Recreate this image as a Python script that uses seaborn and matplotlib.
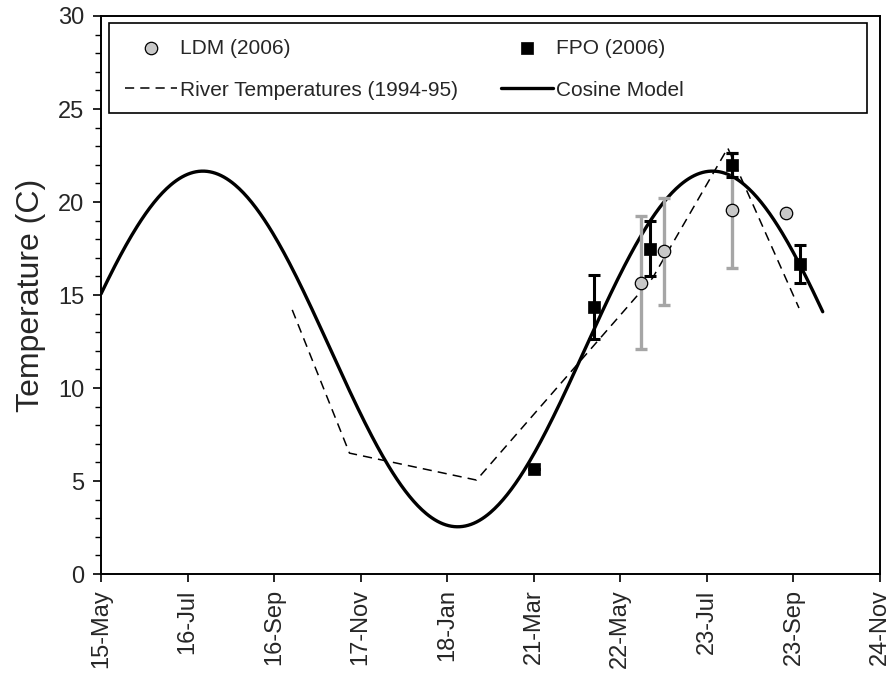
import numpy as np
import pandas as pd
import matplotlib
matplotlib.use("Agg")
import matplotlib.pyplot as plt
from matplotlib.ticker import MultipleLocator
from matplotlib.patches import Rectangle
import seaborn as sns

# ---------------- data ----------------
tick_dates = ["2005-05-15", "2005-07-16", "2005-09-16", "2005-11-17", "2006-01-18",
              "2006-03-21", "2006-05-22", "2006-07-23", "2006-09-23", "2006-11-24"]
tick_labels = ["15-May", "16-Jul", "16-Sep", "17-Nov", "18-Jan",
               "21-Mar", "22-May", "23-Jul", "23-Sep", "24-Nov"]

ldm_dates = ["2006-06-06", "2006-06-22", "2006-08-10", "2006-09-18"]
ldm_temp = [15.66, 17.35, 19.55, 19.39]
ldm_err = [3.58, 2.87, 3.10, 0.0]

fpo_dates = ["2006-03-21", "2006-05-03", "2006-06-12", "2006-08-10", "2006-09-28"]
fpo_temp = [5.65, 14.37, 17.49, 21.99, 16.65]
fpo_err = [0.0, 1.72, 1.49, 0.65, 1.03]

river_dates = ["2005-09-29", "2005-11-09", "2006-02-08", "2006-06-14", "2006-08-07", "2006-09-27"]
river_temp = [14.2, 6.5, 5.05, 15.9, 22.9, 14.3]

# cosine model parameters
cos_mean = 12.1
cos_amp = 9.56
cos_peak = "2005-07-27"
cos_period_days = 365.0
cos_start = "2005-05-15"
cos_end = "2006-10-14"

# ---------------- figure ----------------
sns.set_theme(style="ticks")
plt.rcParams["font.family"] = ["Liberation Sans", "DejaVu Sans"]

fig = plt.figure(figsize=(8.92, 6.75), dpi=100)
ax = fig.add_axes([0.1132, 0.1496, 0.8733, 0.8267])

ldm = pd.DataFrame({"date": pd.to_datetime(ldm_dates), "temp": ldm_temp, "err": ldm_err})
fpo = pd.DataFrame({"date": pd.to_datetime(fpo_dates), "temp": fpo_temp, "err": fpo_err})
river = pd.DataFrame({"date": pd.to_datetime(river_dates), "temp": river_temp})

cdates = pd.date_range(cos_start, cos_end, freq="D")
phase = (cdates - pd.Timestamp(cos_peak)).days.values / cos_period_days
cosdf = pd.DataFrame({"date": cdates,
                      "temp": cos_mean + cos_amp * np.cos(2 * np.pi * phase)})

# river temperatures (dashed)
sns.lineplot(data=river, x="date", y="temp", ax=ax, color="black", lw=1.1,
             linestyle=(0, (6, 4)), label="River Temperatures (1994-95)", zorder=2)
# cosine model
sns.lineplot(data=cosdf, x="date", y="temp", ax=ax, color="black", lw=2.4,
             label="Cosine Model", zorder=3)

# error bars
ax.errorbar(ldm["date"], ldm["temp"], yerr=ldm["err"], fmt="none",
            ecolor="#a6a6a6", elinewidth=2.4, capsize=4.5, capthick=2.4, zorder=4)
ax.errorbar(fpo["date"], fpo["temp"], yerr=fpo["err"], fmt="none",
            ecolor="black", elinewidth=2.2, capsize=4.5, capthick=2.2, zorder=5)

# points
sns.scatterplot(data=ldm, x="date", y="temp", ax=ax, marker="o", s=80,
                color="#c8c8c8", edgecolor="black", linewidth=0.9,
                label="LDM (2006)", zorder=6)
sns.scatterplot(data=fpo, x="date", y="temp", ax=ax, marker="s", s=75,
                color="black", edgecolor="black", linewidth=0.5,
                label="FPO (2006)", zorder=7)

# axes
ax.set_xlim(pd.Timestamp(tick_dates[0]), pd.Timestamp(tick_dates[-1]))
ax.set_ylim(0, 30)
ax.set_xticks(pd.to_datetime(tick_dates))
ax.set_xticklabels(tick_labels, rotation=90, fontsize=17)
ax.yaxis.set_major_locator(MultipleLocator(5))
ax.yaxis.set_minor_locator(MultipleLocator(1))
ax.tick_params(axis="y", which="major", labelsize=17, length=6, width=1.2,
               direction="out", color="black", pad=6)
ax.tick_params(axis="y", which="minor", length=4, width=1.0, direction="out", color="black")
ax.tick_params(axis="x", which="major", length=6, width=1.2, direction="out",
               color="black", pad=5)
ax.set_xlabel("")
ax.set_ylabel("Temperature (C)", fontsize=23, labelpad=9)
for s in ax.spines.values():
    s.set_visible(True)
    s.set_color("black")
    s.set_linewidth(1.4)

# legend (column-major fill: row 1 = LDM, FPO; row 2 = River, Cosine)
handles, labels = ax.get_legend_handles_labels()
hmap = dict(zip(labels, handles))
order = ["LDM (2006)", "River Temperatures (1994-95)", "FPO (2006)", "Cosine Model"]
leg = ax.legend([hmap[k] for k in order], order, ncol=2,
                bbox_to_anchor=(0.0103, 0.9875), loc="upper left",
                borderaxespad=0, fontsize=15, frameon=False,
                handlelength=2.5, handletextpad=0.15, columnspacing=2.05,
                labelspacing=1.1, borderpad=0.75)
ax.add_patch(Rectangle((0.0103, 0.826), 0.9727, 0.1615, transform=ax.transAxes,
                       fill=False, edgecolor="black", linewidth=1.2, zorder=10))

fig.savefig("out.png", dpi=100)
